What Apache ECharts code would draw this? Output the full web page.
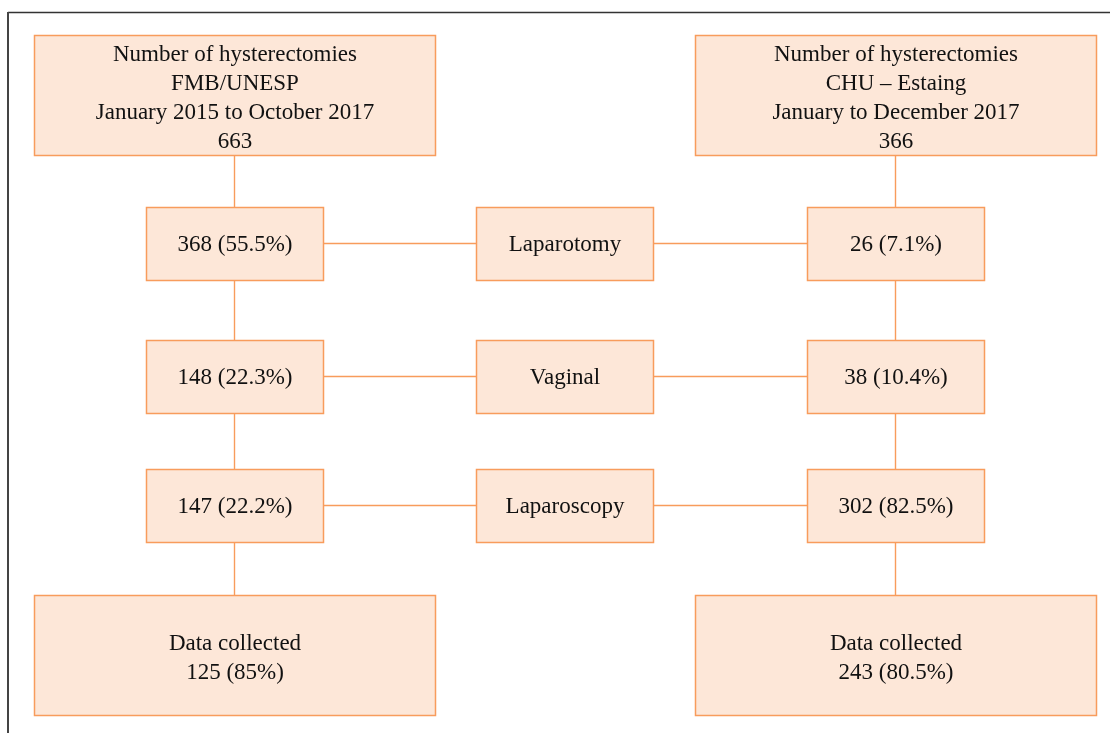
<!DOCTYPE html>
<html>
<head>
<meta charset="utf-8">
<script src="https://cdn.jsdelivr.net/npm/echarts@6/dist/echarts.min.js"></script>
<style>html,body{margin:0;padding:0;background:#fff}#c{width:1110px;height:733px}</style>
</head>
<body>
<div id="c"></div>
<script>
// Columns of the flowchart
const columns = ['FMB/UNESP', 'Technique', 'CHU'];
// Vertical level of each row (axis units)
const levels = [95, 243.5, 376.5, 505, 655];

// Node texts
const leftTexts = [
  'Number of hysterectomies\nFMB/UNESP\nJanuary 2015 to October 2017\n663',
  '368 (55.5%)',
  '148 (22.3%)',
  '147 (22.2%)',
  'Data collected\n125 (85%)'
];
const techniqueTexts = ['Laparotomy', 'Vaginal', 'Laparoscopy'];
const rightTexts = [
  'Number of hysterectomies\nCHU \u2013 Estaing\nJanuary to December 2017\n366',
  '26 (7.1%)',
  '38 (10.4%)',
  '302 (82.5%)',
  'Data collected\n243 (80.5%)'
];

const FILL = '#fde7d8';
const BORDER = '#f89c5c';
const BIG = [401, 120];
const SMALL = [177, 73];

// Build box data: [column, level, big(1/0), text]
const boxes = [];
const links = [];
function addColumn(texts, col) {
  texts.forEach((t, i) => {
    const big = (i === 0 || i === texts.length - 1) ? 1 : 0;
    boxes.push([col, levels[i], big, t]);
    if (i > 0) links.push({ coords: [[col, levels[i - 1]], [col, levels[i]]] });
  });
}
addColumn(leftTexts, 0);
addColumn(rightTexts, 2);
techniqueTexts.forEach((t, i) => {
  boxes.push([1, levels[i + 1], 0, t]);
  links.push({ coords: [[0, levels[i + 1]], [2, levels[i + 1]]] });
});

const chart = echarts.init(document.getElementById('c'), null, { renderer: 'canvas' });
chart.setOption({
  backgroundColor: '#fff',
  animation: false,
  grid: { left: 68.75, width: 991.5, top: 0, height: 733 },
  xAxis: { type: 'value', min: -0.5, max: 2.5, show: false },
  yAxis: { type: 'value', min: 0, max: 733, inverse: true, show: false },
  graphic: [
    { type: 'line', shape: { x1: 8, y1: 12.5, x2: 1110, y2: 12.5 }, style: { stroke: '#333', lineWidth: 1.5 }, silent: true, z: 100 },
    { type: 'line', shape: { x1: 8, y1: 12, x2: 8, y2: 733 }, style: { stroke: '#444', lineWidth: 2 }, silent: true, z: 100 }
  ],
  series: [
    {
      type: 'lines',
      coordinateSystem: 'cartesian2d',
      silent: true,
      z: 1,
      lineStyle: { color: BORDER, width: 1.4, opacity: 1, curveness: 0 },
      data: links
    },
    {
      type: 'custom',
      coordinateSystem: 'cartesian2d',
      silent: true,
      z: 2,
      data: boxes,
      encode: { x: 0, y: 1 },
      renderItem: function (params, api) {
        const c = api.coord([api.value(0), api.value(1)]);
        const big = api.value(2) === 1;
        const size = big ? BIG : SMALL;
        const text = boxes[params.dataIndex][3];
        return {
          type: 'rect',
          shape: { x: Math.round(c[0] - size[0] / 2) + 0.5, y: Math.round(c[1] - size[1] / 2) + 0.5, width: size[0], height: size[1] },
          style: { fill: FILL, stroke: BORDER, lineWidth: 1.5 },
          textContent: {
            style: {
              text: text,
              fill: '#111',
              font: '23px "Liberation Serif"',
              lineHeight: 29,
              align: 'center',
              verticalAlign: 'middle'
            }
          },
          textConfig: { position: 'inside', offset: [0, big ? 3 : 1] }
        };
      }
    }
  ]
});
</script>
</body>
</html>
